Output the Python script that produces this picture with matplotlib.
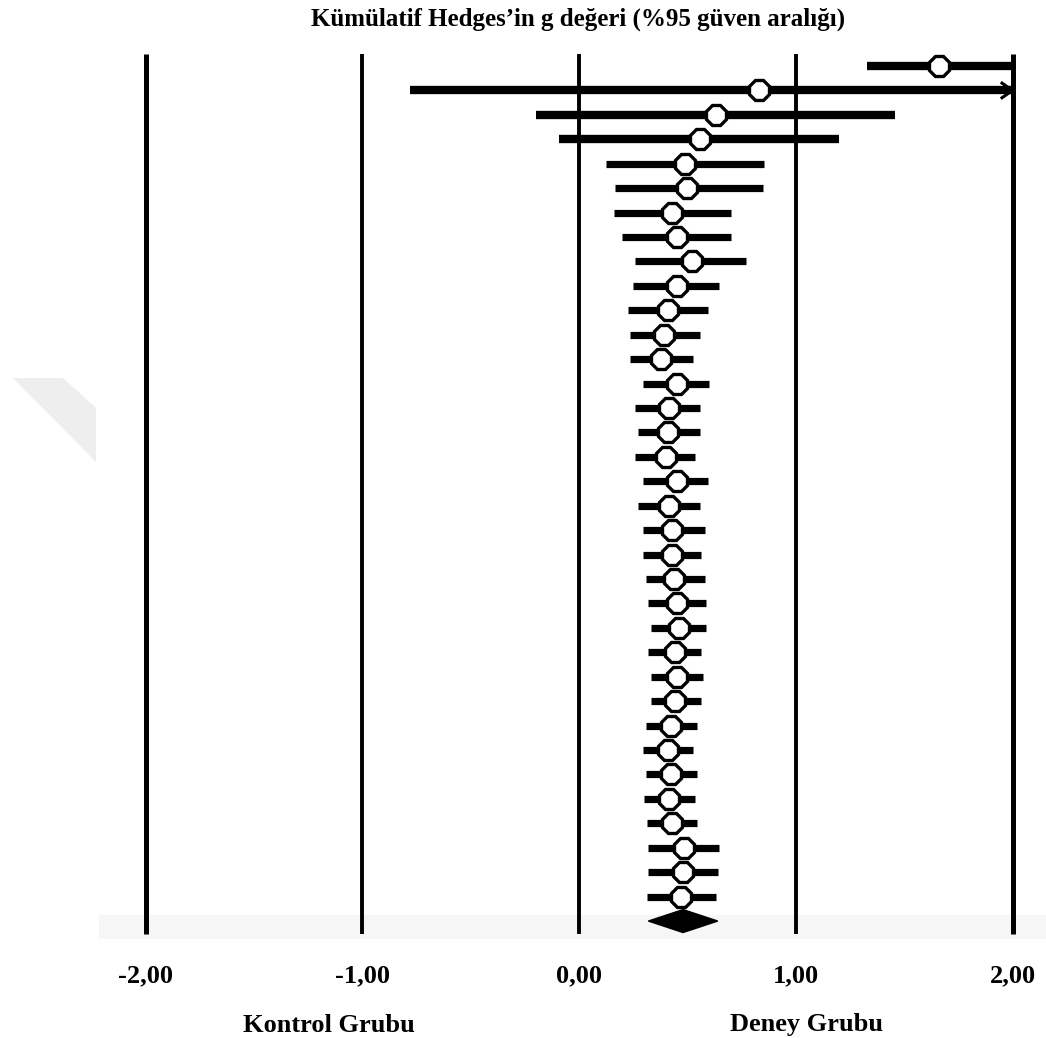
import numpy as np
import matplotlib
matplotlib.use("Agg")
import matplotlib.pyplot as plt
from matplotlib.patches import Polygon

# Kümülatif etki büyüklükleri (Hedges' g) ve %95 güven aralıkları
g_values = [1.66, 0.83, 0.63, 0.56, 0.49, 0.50, 0.43, 0.45, 0.52, 0.45,
            0.41, 0.39, 0.38, 0.45, 0.415, 0.41, 0.40, 0.45, 0.415, 0.43,
            0.43, 0.44, 0.45, 0.46, 0.445, 0.45, 0.445, 0.425, 0.41, 0.425,
            0.415, 0.43, 0.485, 0.48, 0.47]
ci_low = [1.33, -0.78, -0.20, -0.09, 0.124, 0.166, 0.16, 0.20, 0.26, 0.25,
          0.226, 0.235, 0.235, 0.295, 0.26, 0.27, 0.26, 0.295, 0.27, 0.295,
          0.295, 0.31, 0.32, 0.33, 0.32, 0.33, 0.33, 0.31, 0.295, 0.31,
          0.30, 0.315, 0.32, 0.32, 0.315]
ci_high = [2.00, 2.00, 1.46, 1.20, 0.853, 0.848, 0.70, 0.70, 0.77, 0.645,
           0.595, 0.56, 0.525, 0.60, 0.56, 0.56, 0.535, 0.595, 0.56, 0.58,
           0.565, 0.58, 0.585, 0.585, 0.565, 0.57, 0.565, 0.545, 0.525, 0.545,
           0.535, 0.545, 0.645, 0.64, 0.63]
overall = (0.48, 0.32, 0.64)  # g, alt, üst

tick_values = [-2, -1, 0, 1, 2]
tick_labels = ["-2,00", "-1,00", "0,00", "1,00", "2,00"]

W, H = 1046, 1038
fig = plt.figure(figsize=(W / 100, H / 100), dpi=100)
ax = fig.add_axes([0, 0, 1, 1])

# piksel -> veri eşlemesi
x0_px, unit_px = 579.0, 216.75
y0_px, row_px = 66.0, 24.43
ax.set_xlim((0 - x0_px) / unit_px, (W - x0_px) / unit_px)
ax.set_ylim(1 + (H - y0_px) / row_px, 1 - y0_px / row_px)
ax.axis("off")

def px2x(p):
    return (p - x0_px) / unit_px

def px2y(p):
    return 1 + (p - y0_px) / row_px

n = len(g_values)
rows = np.arange(1, n + 1)
diamond_row = n + 1

# alt gri şerit
ax.fill_between([px2x(99), px2x(W)], px2y(915), px2y(939), color="#f6f6f6", lw=0, zorder=0)
# soluk filigran
ax.add_patch(Polygon([(px2x(13), px2y(378)), (px2x(63), px2y(378)),
                      (px2x(96), px2y(408)), (px2x(96), px2y(462))],
                     closed=True, color="#eeeeee", lw=0, zorder=0))

# dikey referans çizgileri
for v in tick_values:
    lw = 3.6 if abs(v) == 2 else 2.8
    ax.plot([v, v], [px2y(54), px2y(934)], color="black", lw=lw, zorder=1,
            solid_capstyle="butt")

# güven aralıkları
for i, r in enumerate(rows):
    lw = 6.0 if i < 4 else 5.2
    ax.plot([ci_low[i], ci_high[i]], [r, r], color="black", lw=lw, zorder=2,
            solid_capstyle="butt")
# ikinci satırdaki ok ucu (sınırın ötesi)
r2 = rows[1]
ax.plot([px2x(1002), 2.0, px2x(1002)], [r2 - 0.3, r2, r2 + 0.3], color="black",
        lw=2.2, zorder=2)

ax.plot(g_values, rows, linestyle="none", marker="8", ms=15, mfc="white",
        mec="black", mew=2.4, zorder=3)

# genel etki elması
g, lo, hi = overall
half = (px2y(933) - px2y(910)) / 2
ax.fill([lo, g, hi, g], [diamond_row, diamond_row - half, diamond_row, diamond_row + half],
        color="black", zorder=3)

serif = ["Liberation Serif", "DejaVu Serif"]
fig.text(578 / W, 1 - 19 / H, "Kümülatif Hedges’in g değeri (%95 güven aralığı)",
         ha="center", va="center", fontsize=18, fontweight="bold", family=serif)
for v, lab in zip(tick_values, tick_labels):
    ax.text(v, px2y(976), lab, ha="center", va="center", fontsize=19,
            fontweight="bold", family=serif)
fig.text(329 / W, 1 - 1025 / H, "Kontrol Grubu", ha="center", va="center",
         fontsize=19, fontweight="bold", family=serif)
fig.text(806 / W, 1 - 1025 / H, "Deney Grubu", ha="center", va="center",
         fontsize=19, fontweight="bold", family=serif)

fig.savefig("out.png", dpi=100)
